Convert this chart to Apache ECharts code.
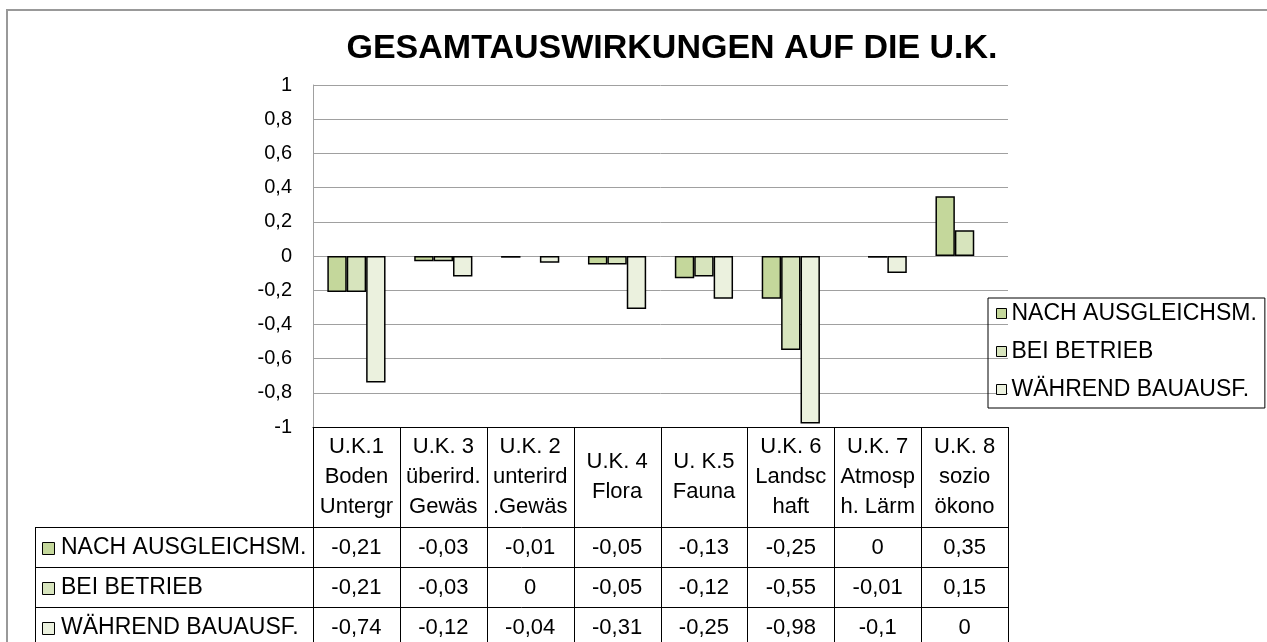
<!DOCTYPE html>
<html style="height: 100%">
<head>
<meta charset="utf-8">
</head>
<body style="height: 100%; margin: 0; background: #fff">
<div id="container" style="width: 1267px; height: 642px"></div>
<script type="text/javascript" src="https://cdn.jsdelivr.net/npm/echarts@6/dist/echarts.min.js"></script>
<script type="text/javascript">
var titleText = 'GESAMTAUSWIRKUNGEN AUF DIE U.K.';
var categories = [
    'U.K.1\nBoden\nUntergr',
    'U.K. 3\nüberird.\nGewäs',
    'U.K. 2\nunterird\n.Gewäs',
    'U.K. 4\nFlora',
    'U. K.5\nFauna',
    'U.K. 6\nLandsc\nhaft',
    'U.K. 7\nAtmosp\nh. Lärm',
    'U.K. 8\nsozio\nökono'
];
var seriesNames = ['NACH AUSGLEICHSM.', 'BEI BETRIEB', 'WÄHREND BAUAUSF.'];
var seriesColors = ['#c4d79b', '#d7e4bd', '#ebf1de'];
var nachAusgleich = [-0.21, -0.03, -0.01, -0.05, -0.13, -0.25, 0, 0.35];
var beiBetrieb = [-0.21, -0.03, 0, -0.05, -0.12, -0.55, -0.01, 0.15];
var waehrendBau = [-0.74, -0.12, -0.04, -0.31, -0.25, -0.98, -0.1, 0];
var seriesValues = [nachAusgleich, beiBetrieb, waehrendBau];

var FONT = "'Liberation Sans', Arial, sans-serif";
// plot area in pixels (matches the data table underneath)
var GL = 313, GR = 1008, GT = 85, GB = 427;
var colW = (GR - GL) / categories.length;
var rowTop = 527, rowH = 40, tableLeft = 35, tableBottom = 647;

function fmt(v) {
    return String(v).replace('.', ',');
}

var dom = document.getElementById('container');
var myChart = echarts.init(dom);

// data table drawn as graphic elements
var graphics = [];
function line(x1, y1, x2, y2, color) {
    graphics.push({
        type: 'line',
        shape: {x1: x1, y1: y1, x2: x2, y2: y2},
        style: {stroke: color || '#000', lineWidth: 1},
        silent: true
    });
}
// outer chart border
graphics.push({
    type: 'rect',
    shape: {x: 7, y: 10, width: 1320, height: 700},
    style: {fill: 'none', stroke: '#999', lineWidth: 2},
    silent: true
});
graphics.push({
    type: 'text',
    x: 672, y: 49,
    style: {
        text: titleText, font: 'bold 34px ' + FONT, fill: '#000',
        align: 'center', verticalAlign: 'middle'
    }
});
for (var i = 0; i <= categories.length; i++) {
    var x = Math.round(GL + i * colW) + 0.5;
    line(x, GB, x, tableBottom);
}
line(tableLeft + 0.5, rowTop, tableLeft + 0.5, tableBottom);
for (var r = 0; r <= 3; r++) {
    var y = rowTop + r * rowH + 0.5;
    line(tableLeft, y, GR + 0.5, y);
}
seriesNames.forEach(function (name, r) {
    var cy = rowTop + r * rowH + rowH / 2;
    graphics.push({
        type: 'rect',
        shape: {x: 42.5, y: Math.round(cy - 5) + 0.5, width: 12, height: 12},
        style: {fill: seriesColors[r], stroke: '#000', lineWidth: 1}
    });
    graphics.push({
        type: 'text', x: 61, y: cy + 1,
        style: {text: name, font: '23px ' + FONT, fill: '#000', verticalAlign: 'middle'}
    });
    seriesValues[r].forEach(function (v, c) {
        graphics.push({
            type: 'text', x: GL + (c + 0.5) * colW, y: cy + 1,
            style: {text: fmt(v), font: '22px ' + FONT, fill: '#000', align: 'center', verticalAlign: 'middle'}
        });
    });
});

var option = {
    animation: false,
    backgroundColor: '#fff',
    textStyle: {fontFamily: FONT},
    grid: {left: GL, top: GT, width: GR - GL, height: GB - GT},
    legend: {
        orient: 'vertical',
        left: 988,
        top: 298,
        padding: [4, 8, 7, 8],
        itemGap: 15,
        itemWidth: 10,
        itemHeight: 10,
        icon: 'rect',
        borderColor: '#000',
        borderWidth: 1,
        itemStyle: {borderColor: '#000', borderWidth: 1},
        textStyle: {fontSize: 23, color: '#000', fontFamily: FONT},
        data: seriesNames
    },
    xAxis: {
        type: 'category',
        data: categories,
        position: 'bottom',
        axisLine: {onZero: false, lineStyle: {color: '#000', width: 1}},
        axisTick: {show: false},
        axisLabel: {
            interval: 0,
            margin: 50,
            verticalAlign: 'middle',
            fontSize: 22,
            lineHeight: 30,
            color: '#000',
            fontFamily: FONT
        }
    },
    yAxis: {
        type: 'value',
        min: -1,
        max: 1,
        interval: 0.2,
        axisLine: {show: true, lineStyle: {color: '#a0a0a0', width: 1}},
        axisTick: {show: false},
        splitLine: {lineStyle: {color: '#a0a0a0', width: 1}},
        axisLabel: {
            margin: 21,
            fontSize: 20,
            color: '#000',
            fontFamily: FONT,
            formatter: function (v) {
                return fmt(+v.toFixed(1));
            }
        }
    },
    series: seriesNames.map(function (name, r) {
        return {
            name: name,
            type: 'bar',
            barGap: '0%',
            barCategoryGap: '33%',
            itemStyle: {color: seriesColors[r], borderColor: '#000', borderWidth: 1.5},
            data: seriesValues[r].map(function (v) {
                return v === 0 ? {value: v, itemStyle: {borderWidth: 0}} : v;
            })
        };
    }),
    graphic: graphics
};

myChart.setOption(option);
</script>
</body>
</html>
